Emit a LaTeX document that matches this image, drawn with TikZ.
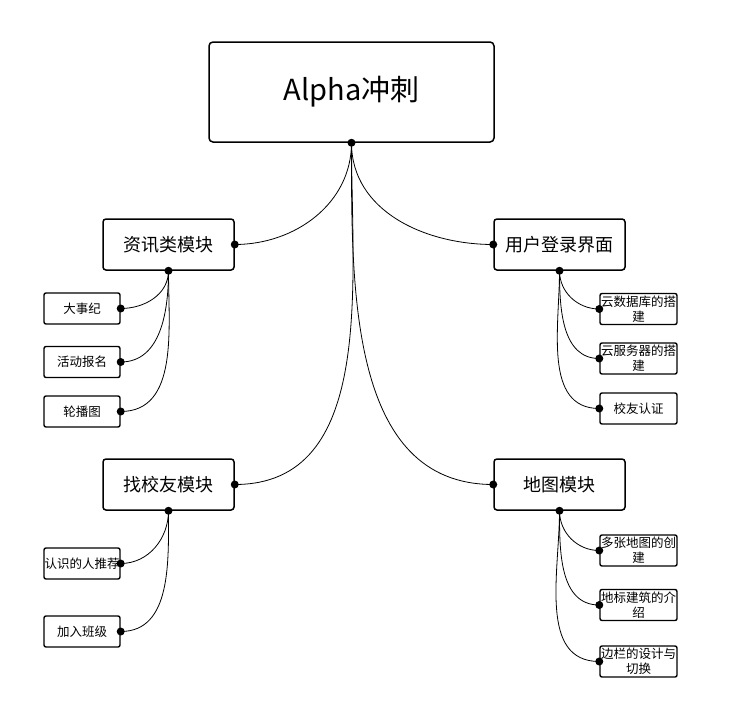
\documentclass[tikz,border=0pt]{standalone}
\usepackage{fontspec}
\setmainfont{Noto Sans CJK SC}
\begin{document}
\begin{tikzpicture}[x=1pt,y=-1pt,
  rootbox/.style={draw, line width=1.5pt, rounded corners=4pt, minimum width=285pt, minimum height=100pt, inner sep=0pt, font=\fontsize{29}{32}\selectfont},
  midbox/.style={draw, line width=1.5pt, rounded corners=3pt, minimum width=131pt, minimum height=51pt, inner sep=0pt, font=\fontsize{18}{20}\selectfont},
  leafbox/.style={draw, line width=1.4pt, rounded corners=2pt, minimum width=76pt, minimum height=31pt, inner sep=0pt, align=center, font=\fontsize{12.5}{15}\selectfont},
  link/.style={line width=0.8pt},
  dot/.style={fill=black, radius=4pt}]
\useasboundingbox (0,0) rectangle (747,720);
\node[rootbox] (root) at (351.5,92) {Alpha冲刺};
\node[midbox] (zx) at (168.5,244.5) {资讯类模块};
\node[midbox] (yh) at (559.5,244.5) {用户登录界面};
\node[midbox] (zxy) at (168.5,484.5) {找校友模块};
\node[midbox] (dt) at (559.5,484.5) {地图模块};
\node[leafbox] (a1) at (82,308.5) {大事纪};
\node[leafbox] (a2) at (82,362) {活动报名};
\node[leafbox] (a3) at (82,411.5) {轮播图};
\node[leafbox] (c1) at (82,563.5) {认识的人推荐};
\node[leafbox] (c2) at (82,631.5) {加入班级};
\node[leafbox, minimum width=77pt] (b1) at (638.5,309) {云数据库的搭\\建};
\node[leafbox, minimum width=77pt] (b2) at (638.5,358.5) {云服务器的搭\\建};
\node[leafbox, minimum width=77pt] (b3) at (638.5,408.5) {校友认证};
\node[leafbox, minimum width=77pt] (d1) at (638.5,550.5) {多张地图的创\\建};
\node[leafbox, minimum width=77pt] (d2) at (638.5,605) {地标建筑的介\\绍};
\node[leafbox, minimum width=77pt] (d3) at (638.5,661.5) {边栏的设计与\\切换};
% root links
\draw[link] (root.south) to[out=-90,in=0] (zx.east);
\draw[link] (root.south) to[out=-90,in=180] (yh.west);
\draw[link] (root.south) to[out=-90,in=0] (zxy.east);
\draw[link] (root.south) to[out=-90,in=180] (dt.west);
% child links
\foreach \p/\c in {zx/a1,zx/a2,zx/a3,zxy/c1,zxy/c2}
  \draw[link] (\p.south) to[out=-90,in=0] (\c.east);
\foreach \p/\c in {yh/b1,yh/b2,yh/b3,dt/d1,dt/d2,dt/d3}
  \draw[link] (\p.south) to[out=-90,in=180] (\c.west);
% dots
\foreach \n/\a in {root/south,zx/east,zx/south,yh/west,yh/south,zxy/east,zxy/south,dt/west,dt/south,a1/east,a2/east,a3/east,c1/east,c2/east,b1/west,b2/west,b3/west,d1/west,d2/west,d3/west}
  \fill (\n.\a) circle[radius=4pt];
\end{tikzpicture}
\end{document}
